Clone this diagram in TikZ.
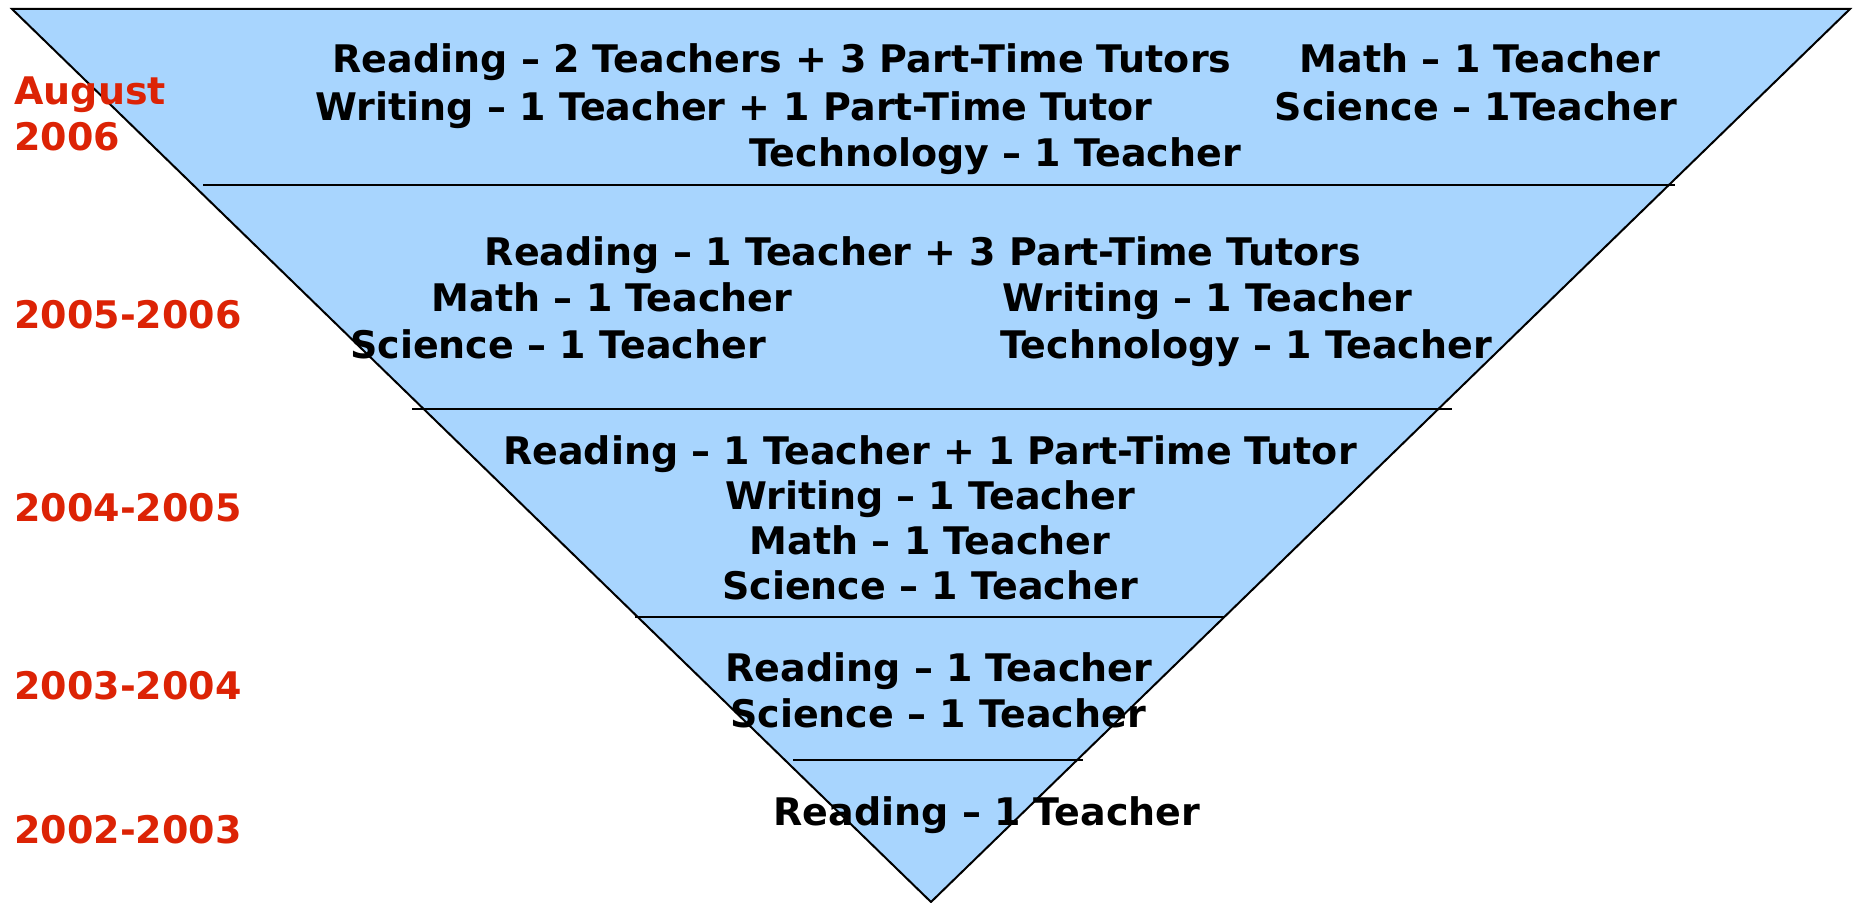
\documentclass[tikz,border=0pt]{standalone}
\usepackage{fontspec}
\setmainfont{DejaVu Sans}
\definecolor{tierblue}{RGB}{168,213,254}
\definecolor{yearred}{RGB}{220,35,5}
\begin{document}
\begin{tikzpicture}[x=0.5pt,y=-0.5pt,
        tier/.style={font=\fontsize{19}{23}\selectfont\bfseries,anchor=base,inner sep=0pt},
        yr/.style={tier,anchor=base west,text=yearred}]
    \useasboundingbox (0,0) rectangle (1860,903);
    \coordinate (tl) at (12,9);
    \coordinate (tr) at (1850,9);
    \coordinate (tip) at (931,902);
    \draw[fill=tierblue,line width=1pt] (tl) -- (tr) -- (tip) -- cycle;
    % dividers between the years
    \draw[line width=0.8pt] (203,185) -- (1675,185);
    \draw[line width=0.8pt] (412,409) -- (1452,409);
    \draw[line width=0.8pt] (635,617) -- (1225,617);
    \draw[line width=0.8pt] (793,760) -- (1083,760);
    % staff per year
    \foreach[count=\i] \x/\y/\t in {
            782/73/Reading -- 2 Teachers + 3 Part-Time Tutors,
            1480/73/Math -- 1 Teacher,
            734/121/Writing -- 1 Teacher + 1 Part-Time Tutor,
            1476/121/Science -- 1Teacher,
            995/167/Technology -- 1 Teacher,
            923/266/Reading -- 1 Teacher + 3 Part-Time Tutors,
            612/312/Math -- 1 Teacher,
            1207/312/Writing -- 1 Teacher,
            558/359/Science -- 1 Teacher,
            1246/359/Technology -- 1 Teacher,
            930/465/Reading -- 1 Teacher + 1 Part-Time Tutor,
            930/510/Writing -- 1 Teacher,
            930/555/Math -- 1 Teacher,
            930/600/Science -- 1 Teacher,
            939/682/Reading -- 1 Teacher,
            938/727/Science -- 1 Teacher,
            987/825/Reading -- 1 Teacher} {
        \node[tier] (s\i) at (\x,\y) {\t};
    }
    % year labels
    \node[yr] (aug) at (14,105) {August};
    \node[yr] (y06) at (14,151) {2006};
    \foreach[count=\i] \y/\t in {329/2005-2006,522/2004-2005,699/2003-2004,843/2002-2003} {
        \node[yr] (y\i) at (14,\y) {\t};
    }
\end{tikzpicture}
\end{document}
